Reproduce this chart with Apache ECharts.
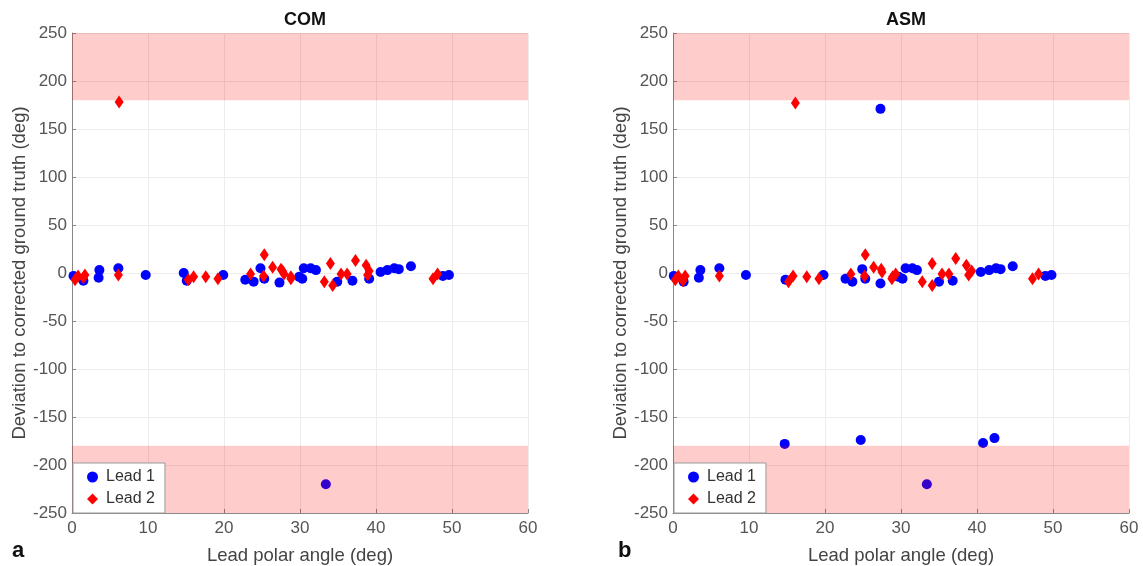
<!DOCTYPE html>
<html>
<head>
<meta charset="utf-8">
<script src="https://cdn.jsdelivr.net/npm/echarts@6/dist/echarts.min.js"></script>
<style>html,body{margin:0;padding:0;background:#fff}#c{width:1143px;height:566px}</style>
</head>
<body>
<div id="c"></div>
<script>
// COM panel
const comLead1 = [
  [0.2,-3],[1.5,-8],[3.6,3],[3.5,-5],[6.1,5],[9.7,-2],[14.7,0],[15.1,-8],[19.9,-2],
  [22.8,-7],[23.9,-9],[24.8,5],[25.3,-6],[27.3,-10],[29.9,-4],[30.5,5],[31.4,5],[32.1,3],
  [30.3,-6],[34.9,-9],[36.9,-8],[39.1,-6],[40.6,1],[41.5,3],[42.4,5],[43.0,4],[44.6,7],
  [48.8,-3],[49.6,-2],[33.4,-220]
];
const comLead2 = [
  [0.4,-7],[0.8,-3],[1.7,-2],[1.5,-5],[6.1,-2],[6.2,178],[15.3,-7],[16.0,-4],[17.6,-4],[19.2,-6],
  [23.5,-1],[25.3,19],[25.2,-3],[26.4,6],[27.5,4],[27.9,-1],[28.8,-6],[27.7,2],[28.8,-4],
  [33.2,-9],[34.0,10],[34.3,-13],[35.4,-1],[36.2,-1],[37.3,13],[38.7,8],[38.9,-2],[39.1,2],
  [47.5,-6],[48.1,-1]
];
// ASM panel
const asmLead1 = [
  [0.1,-3],[1.4,-9],[3.6,3],[3.4,-5],[6.1,5],[9.6,-2],[14.8,-7],[19.8,-2],
  [22.7,-6],[23.6,-9],[24.9,4],[25.3,-6],[27.3,-11],[29.7,-4],[30.6,5],[31.5,5],[32.1,3],
  [30.2,-6],[35.0,-9],[36.8,-8],[40.5,1],[41.6,3],[42.5,5],[43.1,4],[44.7,7],[49.0,-3],[49.8,-2],
  [27.3,171],[14.7,-178],[24.7,-174],[40.8,-177],[42.3,-172],[33.4,-220]
];
const asmLead2 = [
  [0.3,-7],[0.7,-3],[1.6,-3],[1.3,-8],[6.1,-3],[16.1,177],[15.2,-9],[15.8,-3],[17.6,-4],[19.2,-6],
  [23.4,-1],[25.3,19],[25.2,-3],[26.4,6],[27.4,4],[28.8,-6],[29.3,-1],[27.5,1],[28.9,-4],
  [32.8,-9],[34.1,10],[34.1,-13],[35.4,-1],[36.3,-1],[37.2,15],[38.6,8],[38.9,-2],[39.3,2],
  [47.3,-6],[48.1,-1]
];
const panelTitles = ['COM','ASM'];
const panelLetters = ['a','b'];
const xTicks = {min:0,max:60,interval:10};
const yTicks = {min:-250,max:250,interval:50};
const bandLimits = [[180,250],[-250,-180]];

const font = '"Liberation Sans", Arial, Helvetica, sans-serif';
const chart = echarts.init(document.getElementById('c'));
const lefts = [72, 673];
const grids = lefts.map(l => ({left:l, top:33, width:456, height:480, outerBoundsMode:'none', containLabel:false}));
const xAxes = grids.map((g,i) => ({
  type:'value', gridIndex:i, min:xTicks.min, max:xTicks.max, interval:xTicks.interval,
  name:'Lead polar angle (deg)', nameLocation:'middle', nameGap:33,
  nameTextStyle:{fontFamily:font,fontSize:18.5,color:'#444'},
  axisLine:{show:true,onZero:false,lineStyle:{color:'#888'}},
  axisTick:{show:true,inside:true,length:4,lineStyle:{color:'#888'}},
  axisLabel:{fontFamily:font,fontSize:17,color:'#555',margin:7},
  splitLine:{show:true,lineStyle:{color:'#ececec'}}
}));
const yAxes = grids.map((g,i) => ({
  type:'value', gridIndex:i, min:yTicks.min, max:yTicks.max, interval:yTicks.interval,
  name:'Deviation to corrected ground truth (deg)', nameLocation:'middle', nameGap:43,
  nameTextStyle:{fontFamily:font,fontSize:18.5,color:'#444'},
  axisLine:{show:true,onZero:false,lineStyle:{color:'#888'}},
  axisTick:{show:true,inside:true,length:4,lineStyle:{color:'#888'}},
  axisLabel:{fontFamily:font,fontSize:17,color:'#555',margin:5},
  splitLine:{show:true,lineStyle:{color:'#ececec'}}
}));
const data = [[comLead1, comLead2],[asmLead1, asmLead2]];
const series = [];
data.forEach((d,i) => {
  series.push({name:'Lead 1', type:'scatter', xAxisIndex:i, yAxisIndex:i, data:d[0],
    symbol:'circle', symbolSize:10, itemStyle:{color:'#0000ff', opacity:1}, z:2});
  series.push({name:'Lead 2', type:'scatter', xAxisIndex:i, yAxisIndex:i, data:d[1],
    symbol:'diamond', symbolSize:[9,13], itemStyle:{color:'#ff0000', opacity:1}, z:2});
  series.push({name:'band', type:'scatter', xAxisIndex:i, yAxisIndex:i, data:[], z:10,
    silent:true,
    markArea:{silent:true, z:10, itemStyle:{color:'rgba(255,0,0,0.2)'},
      data: bandLimits.map(b => [{coord:[xTicks.min,b[0]]},{coord:[xTicks.max,b[1]]}])}});
});
const legends = lefts.map((l,i) => ({
  data:['Lead 1','Lead 2'], left:l+1, top:463, orient:'vertical',
  backgroundColor:'#fff', borderColor:'#999', borderWidth:1, padding:[6,10,6,14],
  itemGap:6, itemWidth:11, itemHeight:11,
  textStyle:{fontFamily:font,fontSize:16,color:'#333',padding:[0,0,0,3]}, z:20,
  selectedMode:false
}));
chart.setOption({
  animation:false,
  title: [
    ...panelTitles.map((t,i) => ({text:t, left:lefts[i]+228, top:6, textAlign:'center',
      textStyle:{fontFamily:font,fontSize:18,fontWeight:'bold',color:'#111'}})),
    ...panelLetters.map((t,i) => ({text:t, left:[7,613][i], top:535,
      textStyle:{fontFamily:font,fontSize:22,fontWeight:'bold',color:'#111'}}))
  ],
  grid:grids, xAxis:xAxes, yAxis:yAxes, legend:legends, series:series
});
</script>
</body>
</html>
